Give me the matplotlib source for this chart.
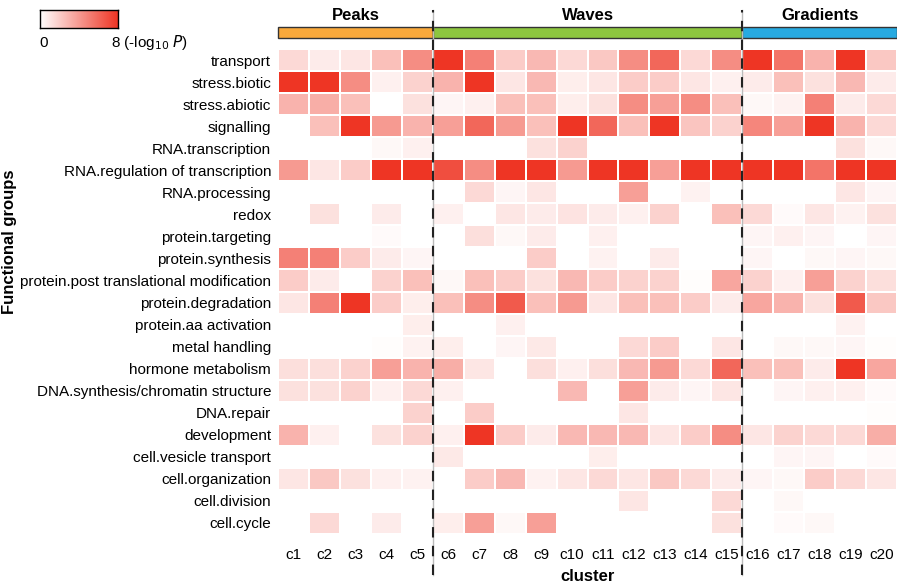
import numpy as np
import matplotlib
matplotlib.use("Agg")
import matplotlib.pyplot as plt
from matplotlib.colors import LinearSegmentedColormap
from matplotlib.patches import Rectangle
import matplotlib.transforms as mtransforms

plt.rcParams['font.family'] = ['Liberation Sans', 'DejaVu Sans']

clusters = [f"c{i}" for i in range(1, 21)]
groups = [
    "transport", "stress.biotic", "stress.abiotic", "signalling",
    "RNA.transcription", "RNA.regulation of transcription", "RNA.processing",
    "redox", "protein.targeting", "protein.synthesis",
    "protein.post translational modification", "protein.degradation",
    "protein.aa activation", "metal handling", "hormone metabolism",
    "DNA.synthesis/chromatin structure", "DNA.repair", "development",
    "cell.vesicle transport", "cell.organization", "cell.division", "cell.cycle",
]

# -log10 P enrichment per functional group across clusters c1..c20
transport = [1.5, 0.8, 1.0, 2.5, 4.5, 8, 5, 2, 2.8, 1.5, 2.2, 4.5, 6, 1.5, 4.5, 8, 5.5, 3, 8, 2.2]
stress_biotic = [8, 8, 4.5, 0.6, 1.8, 3, 8, 1, 2.8, 0.7, 1, 2, 2, 1, 0.6, 0.8, 2.5, 1.2, 2.8, 0.8]
stress_abiotic = [3, 3.2, 2.5, 0, 1.2, 0.4, 0.6, 2.5, 2.5, 0.7, 1.2, 4.5, 3.8, 4.5, 2.5, 0.3, 0.5, 5, 0.8, 1.5]
signalling = [0, 2.5, 8, 4, 3, 3.8, 6, 4, 2.5, 8, 6, 2.5, 8, 2.3, 1.8, 4.8, 3.8, 8, 3, 1.5]
rna_transcription = [0, 0, 0, 0.3, 0.6, 0, 0, 0, 1.2, 1.8, 0, 0, 0, 0, 0, 0, 0, 0, 1.2, 0.3]
rna_regulation = [4, 1, 2, 8, 8, 7, 4.5, 8, 8, 4, 8, 8, 3.8, 8, 8, 8, 8, 5.5, 8, 8]
rna_processing = [0, 0, 0, 0, 0, 0, 1.5, 0.4, 1, 0, 0, 3.8, 0, 0.5, 0, 0, 0, 0, 1, 0.4]
redox = [0, 1.2, 0, 0.8, 0, 0.6, 0, 1, 0.8, 1.1, 0.8, 0.6, 1.8, 0, 2.5, 1.5, 0.2, 1, 0.5, 1.2]
protein_targeting = [0, 0, 0, 0.2, 0, 0, 1.3, 0.3, 0.8, 0, 0.6, 0, 0, 0, 0, 0.4, 0.6, 0.4, 0, 0.4]
protein_synthesis = [5, 5, 2, 0.8, 0.4, 0, 0, 0, 2, 0, 0.5, 0, 0.8, 0, 0, 0.4, 0, 0.3, 0.4, 0.3]
protein_ptm = [2, 0.8, 0, 1.8, 2.5, 0.3, 2.5, 2, 1.2, 2.8, 2, 1.8, 1.8, 0.1, 3.5, 1.8, 0.6, 3.8, 1.8, 1.3]
protein_degradation = [1, 5, 8, 2, 0.7, 2.5, 4.5, 6.5, 2.5, 4, 1, 2.5, 2.5, 2, 0.8, 3.5, 3, 1.2, 6.5, 2.2]
protein_aa_activation = [0, 0, 0, 0, 0.7, 0, 0, 0.6, 0, 0, 0, 0, 0, 0, 0, 0, 0, 0, 0.5, 0]
metal_handling = [0, 0, 0, 0.1, 0.5, 0.7, 0, 0.4, 0.9, 0, 0, 1.5, 2, 0, 1, 0, 0.3, 0.3, 0.4, 0.1]
hormone_metabolism = [1.3, 1.3, 1.8, 3.8, 3, 3.2, 1, 0, 1.3, 0.6, 1.3, 2.8, 4, 1.5, 6, 2.5, 2.5, 0.8, 8, 3.5]
dna_synthesis = [1.2, 1.2, 1.8, 0.6, 1.5, 0.6, 0, 0, 0, 2.8, 0, 3.8, 0.8, 0.4, 1, 0, 0.4, 0.6, 0.6, 0.2]
dna_repair = [0, 0, 0, 0, 1.8, 0, 2, 0, 0, 0, 0, 1, 0, 0, 0, 0, 0, 0, 0, 0.1]
development = [3, 0.6, 0, 1.2, 1.8, 0.6, 8, 2, 0.8, 2.8, 2.8, 2.8, 1, 2, 4.5, 1, 1.8, 1.5, 1.5, 3.2]
cell_vesicle_transport = [0, 0, 0, 0, 0, 0.9, 0, 0, 0, 0, 0.7, 0, 0, 0, 0, 0, 0.4, 0.4, 0, 0.2]
cell_organization = [1, 2.2, 1.2, 0.6, 0.5, 0, 2, 2.8, 0.5, 1, 1.5, 1, 2.2, 1.5, 0.8, 0.4, 0.3, 2, 1.5, 1]
cell_division = [0, 0, 0, 0, 0, 0, 0, 0, 0, 0, 0, 1, 0, 0, 1.5, 0, 0.3, 0, 0, 0]
cell_cycle = [0, 1.5, 0, 0.8, 0, 0.7, 3.8, 0.3, 3.8, 0, 0, 0, 0, 0, 1.2, 0, 0.2, 0.3, 0, 0]

phase_names = ["Peaks", "Waves", "Gradients"]
phase_spans = [(0, 5), (5, 15), (15, 20)]
phase_colors = ["#F9A93B", "#8DC63F", "#27AAE1"]

values = np.array([
    transport, stress_biotic, stress_abiotic, signalling, rna_transcription,
    rna_regulation, rna_processing, redox, protein_targeting, protein_synthesis,
    protein_ptm, protein_degradation, protein_aa_activation, metal_handling,
    hormone_metabolism, dna_synthesis, dna_repair, development,
    cell_vesicle_transport, cell_organization, cell_division, cell_cycle,
])

cmap = LinearSegmentedColormap.from_list("wr", ["#FFFFFF", "#EE3524"])

W, H = 897, 584
fig = plt.figure(figsize=(W / 100, H / 100), dpi=100)

left, right, top, bottom = 278, 897, 49, 534
ax = fig.add_axes([left / W, 1 - bottom / H, (right - left) / W, (bottom - top) / H])
ax.pcolormesh(np.arange(21), np.arange(23), values, cmap=cmap, vmin=0, vmax=8,
              edgecolors="white", linewidth=1.3)
ax.set_xlim(0, 20)
ax.set_ylim(22, 0)
for s in ax.spines.values():
    s.set_visible(False)
ax.set_xticks(np.arange(20) + 0.5)
ax.set_xticklabels(clusters, fontsize=11)
ax.set_yticks(np.arange(22) + 0.5)
ax.set_yticklabels(groups, fontsize=11)
ax.tick_params(length=0, pad=5)
ax.tick_params(axis="x", pad=10)
ax.set_xlabel("cluster", fontsize=12, fontweight="bold", labelpad=5)
fig.text(10 / W, 1 - 242 / H, "Functional groups", fontsize=12, fontweight="bold",
         rotation=90, ha="center", va="center")

trans = mtransforms.blended_transform_factory(ax.transData, ax.transAxes)
span_px = bottom - top
bar_top = 1 + (top - 27) / span_px
bar_bot = 1 + (top - 38) / span_px
label_y = 1 + (top - 16) / span_px
for name, (a, b), col in zip(phase_names, phase_spans, phase_colors):
    ax.add_patch(Rectangle((a, bar_bot), b - a, bar_top - bar_bot, transform=trans,
                           facecolor=col, edgecolor="#333333", linewidth=1,
                           clip_on=False))
    ax.text((a + b) / 2, label_y, name, transform=trans, ha="center", va="center",
            fontsize=12, fontweight="bold")

line_top = 1 + (top - 10) / span_px
line_bot = -(575 - bottom) / span_px
for xb in (5, 15):
    ax.plot([xb, xb], [line_bot, line_top], transform=trans, color="#BBBBBB",
            linewidth=1, clip_on=False, zorder=5)
    ax.plot([xb, xb], [line_bot, line_top], transform=trans, color="#222222",
            linewidth=1.5, linestyle=(0, (5, 4)), clip_on=False, zorder=6)

# colour key
cax = fig.add_axes([40 / W, 1 - 28 / H, 78 / W, 18 / H])
cax.imshow(np.linspace(0, 1, 256)[None, :], cmap=cmap, aspect="auto",
           extent=[0, 1, 0, 1])
cax.set_xticks([])
cax.set_yticks([])
for s in cax.spines.values():
    s.set_linewidth(1)
    s.set_color("black")
fig.text(39 / W, 1 - 43 / H, "0", fontsize=11, ha="left", va="center")
fig.text(111 / W, 1 - 43 / H, r"8 (-log$_{10}$ $\it{P}$)", fontsize=11,
         ha="left", va="center")

fig.savefig("out.png", dpi=100)
